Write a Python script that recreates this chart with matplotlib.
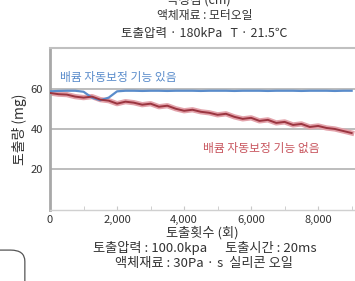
import numpy as np
import matplotlib
matplotlib.use("Agg")
import matplotlib.pyplot as plt
from matplotlib.patches import FancyBboxPatch

plt.rcParams['font.family'] = ['Noto Sans CJK KR', 'DejaVu Sans']

# ============================
# Data
# ============================
counts = [0, 250, 500, 750, 1000, 1250, 1500, 1750, 2000, 2250, 2500, 2750,
          3000, 3250, 3500, 3750, 4000, 4250, 4500, 4750, 5000, 5250, 5500,
          5750, 6000, 6250, 6500, 6750, 7000, 7250, 7500, 7750, 8000, 8250,
          8500, 8750, 9000]
with_comp = [58.6, 58.8, 58.9, 58.9, 58.4, 55.5, 54.2, 55.5, 58.6, 58.9, 58.9,
             58.8, 58.9, 58.9, 58.8, 58.9, 58.9, 58.9, 58.8, 58.9, 58.9, 58.9,
             58.8, 58.9, 58.9, 58.9, 58.8, 58.9, 58.9, 58.9, 58.8, 58.9, 58.9,
             58.9, 58.8, 58.9, 58.9]
without_comp = [57.8, 57.2, 57.0, 56.0, 55.5, 56.0, 54.5, 54.0, 52.5, 53.5,
                53.0, 52.0, 52.5, 51.0, 51.5, 50.0, 49.0, 49.5, 48.5, 48.0,
                47.0, 47.5, 46.0, 45.0, 45.5, 44.0, 44.5, 43.0, 43.5, 42.0,
                42.5, 41.0, 41.5, 40.5, 40.0, 39.0, 38.0]
y_ticks = [20, 40, 60]
x_ticks = [0, 2000, 4000, 6000, 8000]
x_tick_labels = ['0', '2,000', '4,000', '6,000', '8,000']

blue = '#5a8ccb'
red_dark = '#9b3540'
red_halo = '#e3a3ab'
red_text = '#c8565f'
txt = '#333333'

# ============================
# Figure
# ============================
fig = plt.figure(figsize=(3.55, 2.81), dpi=100)
ax = fig.add_axes([0.141, 0.253, 0.859, 0.576])

for y in y_ticks:
    ax.axhline(y, color='#bdbdbd', linewidth=1.4, zorder=1)

ax.plot(counts, with_comp, color=blue, linewidth=1.6, zorder=3)
ax.plot(counts, without_comp, color=red_halo, linewidth=3.8, zorder=2)
ax.plot(counts, without_comp, color=red_dark, linewidth=1.4, zorder=4)

ax.set_xlim(0, 9100)
ax.set_ylim(0, 80)
ax.set_yticks(y_ticks)
ax.set_xticks(x_ticks)
ax.set_xticklabels(x_tick_labels)
ax.set_xticks(np.arange(1000, 9100, 1000), minor=True)
ax.tick_params(axis='y', length=0, labelsize=8, colors=txt, pad=5)
ax.tick_params(axis='x', which='both', direction='in', length=3,
               color='#c8c8c8', labelsize=8, labelcolor=txt, pad=4)

ax.spines['right'].set_visible(False)
ax.spines['left'].set_color('#a8a8a8')
ax.spines['left'].set_linewidth(2)
ax.spines['top'].set_color('#c0c0c0')
ax.spines['top'].set_linewidth(1.5)
ax.spines['bottom'].set_color('#d0d0d0')
ax.spines['bottom'].set_linewidth(1)

ax.text(300, 65.5, '배큠 자동보정 기능 있음', color=blue, fontsize=8.5,
        va='center', ha='left')
ax.text(4550, 30.5, '배큠 자동보정 기능 없음', color=red_text, fontsize=8.5,
        va='center', ha='left')

ax.set_ylabel('토출량 (mg)', fontsize=10, color=txt, labelpad=3)

# Titles above and captions below
fig.text(0.56, 1.0, '측정점 (cm)', ha='center', va='center', fontsize=9, color=txt)
fig.text(0.578, 0.946, '액체재료 : 모터오일', ha='center', va='center', fontsize=8.5, color=txt)
fig.text(0.575, 0.882, '토출압력 · 180kPa   T · 21.5℃', ha='center', va='center', fontsize=9, color=txt)
fig.text(0.571, 0.171, '토출횟수 (회)', ha='center', va='center', fontsize=9.5, color=txt)
fig.text(0.577, 0.117, '토출압력 : 100.0kpa      토출시간 : 20ms', ha='center', va='center', fontsize=9.5, color=txt)
fig.text(0.575, 0.064, '액체재료 : 30Pa · s  실리콘 오일', ha='center', va='center', fontsize=9.5, color=txt)

# Partial rounded box at bottom left
box = FancyBboxPatch((-0.2, -0.2), 0.27, 0.31, boxstyle='round,pad=0,rounding_size=0.04',
                     transform=fig.transFigure, facecolor='none',
                     edgecolor='#555555', linewidth=0.9, clip_on=False)
fig.patches.append(box)

fig.savefig('out.png', dpi=100)
